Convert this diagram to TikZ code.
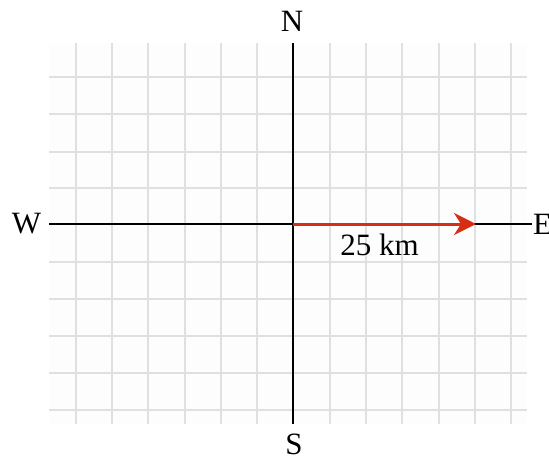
\documentclass[tikz,border=0pt]{standalone}
\usepackage{fontspec}
\setmainfont{Liberation Serif}
\usetikzlibrary{arrows.meta}
\definecolor{gridgray}{RGB}{224,224,224}
\definecolor{vecred}{RGB}{214,46,20}
\definecolor{bgpaper}{RGB}{253,253,253}
\tikzset{
  gridline/.style={draw=gridgray, line width=1.6pt},
  axisline/.style={draw=black, line width=2pt},
  vector/.style={draw=vecred, line width=3pt, -{Stealth[length=22pt, width=22pt, inset=7pt]}},
  dirlabel/.style={font=\fontsize{31}{34}\selectfont, inner sep=0pt},
}
\begin{document}
\begin{tikzpicture}[x=1pt, y=-1pt]
\useasboundingbox (0,0) rectangle (549,456);
\fill[bgpaper] (49,43) rectangle (527,424);
% grid
\foreach \gx in {76,112,148,185,221,257,330,366,402,439,475,511}
  \draw[gridline] (\gx,43) -- (\gx,424);
\foreach \gy in {77,114,152,188,262,299,336,373,410}
  \draw[gridline] (49,\gy) -- (527,\gy);
% axis ends
\coordinate (O) at (293,224);
\coordinate (wend) at (49,224);
\coordinate (eend) at (532,224);
\coordinate (ntop) at (293,43);
\coordinate (sbot) at (293,424);
\coordinate (tip) at (476,224);
\draw[axisline] (wend) -- (eend);
\draw[axisline] (ntop) -- (sbot);
% labels
\node[dirlabel] (N) at (292,21) {N};
\node[dirlabel] (S) at (294,444) {S};
\node[dirlabel] (W) at (26.5,224) {W};
\node[dirlabel, anchor=west] (E) at (533,224) {E};
% vector
\draw[vector] (O) -- (tip);
\node[dirlabel] (lbl) at (379.5,245) {25 km};
\end{tikzpicture}
\end{document}
